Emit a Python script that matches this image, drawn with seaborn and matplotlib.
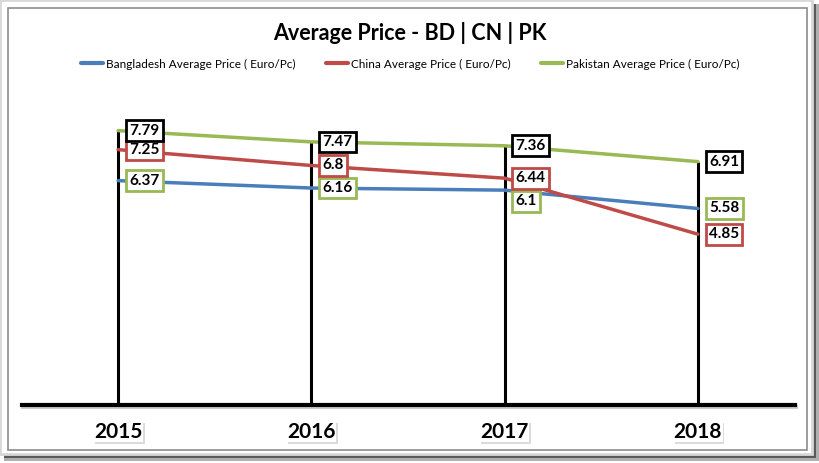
import pandas as pd
import seaborn as sns
from matplotlib import pyplot as plt
from matplotlib.patches import Rectangle
from matplotlib.lines import Line2D
import matplotlib.patheffects as pe

# values
years = [2015, 2016, 2017, 2018]
bangladesh = [6.37, 6.16, 6.1, 5.58]
china = [7.25, 6.8, 6.44, 4.85]
pakistan = [7.79, 7.47, 7.36, 6.91]

series_names = ['Bangladesh Average Price ( Euro/Pc)',
                'China Average Price ( Euro/Pc)',
                'Pakistan Average Price ( Euro/Pc)']
line_colors = ['#4a7ebb', '#be4b48', '#98b954']
box_colors = ['#98b954', '#be4b48', '#000000']

df = pd.DataFrame({
    'year': years * 3,
    'price': bangladesh + china + pakistan,
    'series': [series_names[0]] * 4 + [series_names[1]] * 4 + [series_names[2]] * 4,
})

sns.set_style('white')
plt.rcParams['font.family'] = ['Lato', 'DejaVu Sans']
plt.rcParams['text.color'] = 'black'
plt.rcParams['xtick.color'] = 'black'

W, H = 820, 463
fig = plt.figure(figsize=(8.2, 4.63), dpi=100)

# frame of the chart object (shadow, outer and inner border)
fig.patches.append(Rectangle((4 / W, 1 - 461 / H), 815 / W, 457 / H, transform=fig.transFigure,
                             facecolor='#b0b0b0', edgecolor='none', zorder=-4))
fig.patches.append(Rectangle((4 / W, 1 - 458 / H), 812 / W, 454 / H, transform=fig.transFigure,
                             facecolor='#5a5a5a', edgecolor='none', zorder=-3))
fig.patches.append(Rectangle((0, 1 - 454 / H), 812 / W, 454 / H, transform=fig.transFigure,
                             facecolor='white', edgecolor='#d8d8d8', lw=2, zorder=-2))
fig.patches.append(Rectangle((8 / W, 1 - 450 / H), 799 / W, 442 / H, transform=fig.transFigure,
                             facecolor='white', edgecolor='#8c8c8c', lw=1.2, zorder=-1))

ax = fig.add_axes([21.5 / W, 1 - 405 / H, 773 / W, 317 / H])
ax.patch.set_alpha(0)

sns.lineplot(data=df, x='year', y='price', hue='series', palette=line_colors,
             linewidth=2.5, legend=False, ax=ax, zorder=3)

# drop lines from the highest series down to the axis
tops = [max(v) for v in zip(bangladesh, china, pakistan)]
ax.vlines(years, 0, tops, colors='black', lw=2.2, zorder=2)

ax.set_xlim(2014.5, 2018.5)
ax.set_ylim(0, 9)
ax.set_yticks([])
ax.set_xticks(years)
ax.set_xticklabels([str(y) for y in years], fontsize=15, fontweight='bold')
ax.tick_params(axis='x', length=0, pad=12)
for lab in ax.get_xticklabels():
    lab.set_bbox(dict(facecolor='white', edgecolor='none', pad=0.5))
    lab.get_bbox_patch().set_path_effects([pe.SimplePatchShadow(offset=(1.2, -1.2), alpha=0.2),
                                           pe.Normal()])
ax.set_xlabel('')
ax.set_ylabel('')
for s in ['top', 'left', 'right']:
    ax.spines[s].set_visible(False)
ax.spines['bottom'].set_linewidth(3)
ax.spines['bottom'].set_color('black')
ax.spines['bottom'].set_path_effects([pe.SimpleLineShadow(offset=(1, -1.5), alpha=0.2), pe.Normal()])

# data labels, right of each point
for i, vals in enumerate([bangladesh, china, pakistan]):
    for j, (yr, v) in enumerate(zip(years, vals)):
        dy = -8 if (i == 0 and j == 2) else 0
        ax.annotate(str(v), (yr, v), xytext=(8, dy), textcoords='offset points',
                    ha='left', va='center', fontsize=11, fontweight='bold', zorder=5,
                    bbox=dict(boxstyle='square,pad=0.22', facecolor='white',
                              edgecolor=box_colors[i], lw=2))

fig.text(0.5, 1 - 33 / H, 'Average Price - BD | CN | PK', ha='center', va='center',
         fontsize=15.5, fontweight='bold')

handles = [Line2D([], [], color=c, lw=3) for c in line_colors]
fig.legend(handles, series_names, loc='center', bbox_to_anchor=(0.5, 1 - 64 / H), ncol=3,
           frameon=False, fontsize=8.5, handlelength=1.9, handletextpad=0.2, columnspacing=2.6)

fig.savefig('out.png', dpi=100)
